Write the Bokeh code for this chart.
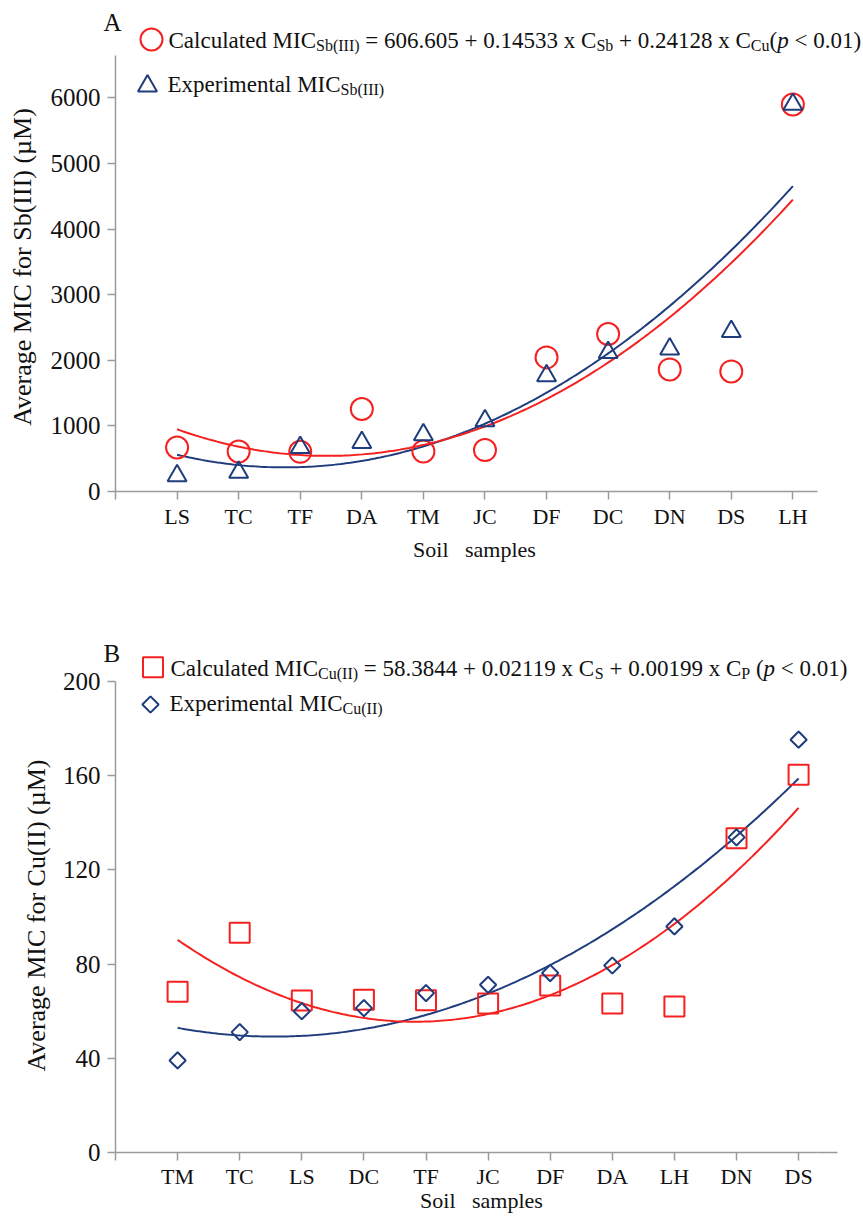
import numpy as np
from bokeh.plotting import figure
from bokeh.models import FixedTicker, Range1d
from bokeh.layouts import column
from bokeh.embed import file_html
from bokeh.resources import INLINE
from bokeh.core.properties import value

# ---------------- data ----------------
samples_a = ["LS", "TC", "TF", "DA", "TM", "JC", "DF", "DC", "DN", "DS", "LH"]
calc_sb = [671, 610, 605, 1257, 610, 631, 2044, 2400, 1861, 1830, 5898]
exp_sb = [240, 295, 670, 747, 865, 1078, 1765, 2120, 2171, 2440, 5900]
yticks_a = [0, 1000, 2000, 3000, 4000, 5000, 6000]

samples_b = ["TM", "TC", "LS", "DC", "TF", "JC", "DF", "DA", "LH", "DN", "DS"]
calc_cu = [68.3, 93.3, 64.5, 64.9, 64.6, 63.3, 70.9, 63.3, 62.0, 133.4, 160.4]
exp_cu = [39.1, 51.1, 60.0, 61.3, 67.7, 71.2, 76.2, 79.4, 96.0, 133.8, 175.3]
yticks_b = [0, 40, 80, 120, 160, 200]

legend_a_calc = [("Calculated MIC", "main"), ("Sb(III)", "sub"),
                 (" = 606.605 + 0.14533 x C", "main"), ("Sb", "sub"),
                 (" + 0.24128 x C", "main"), ("Cu", "sub"),
                 ("(", "main"), ("p", "ital"), (" < 0.01)", "main")]
legend_a_exp = [("Experimental MIC", "main"), ("Sb(III)", "sub")]
legend_b_calc = [("Calculated MIC", "main"), ("Cu(II)", "sub"),
                 (" = 58.3844 + 0.02119 x C", "main"), ("S", "sub"),
                 (" + 0.00199 x C", "main"), ("P", "sub"),
                 (" (", "main"), ("p", "ital"), (" < 0.01)", "main")]
legend_b_exp = [("Experimental MIC", "main"), ("Cu(II)", "sub")]

# ---------------- style ----------------
FONT = "Liberation Serif"
RED = "#f52020"
BLUE = "#1f3d7d"
AXIS = "#9a9a9a"
TXT = "#111111"
MAIN, SUB = 23, 16

TW = {' ': 250, '(': 333, ')': 333, '+': 564, '=': 564, '<': 564, '.': 250,
      'x': 500, 'p': 500, 'C': 667, 'S': 556, 'b': 500, 'I': 333, 'u': 500,
      'M': 889, 'a': 444, 'l': 278, 'c': 444, 't': 278, 'e': 444, 'd': 500,
      'E': 611, 'r': 333, 'i': 278, 'm': 778, 'n': 500, 'P': 556, 's': 389,
      'o': 500}


def tw(s, size):
    return sum(TW.get(ch, 500) for ch in s) / 1000.0 * size


def make_fig(W, H, frame, xr, yr, oy):
    # frame = (L, R, T, B) in page pixel coordinates; figure top at oy
    L, R, T, B = frame
    p = figure(width=W, height=H, x_range=Range1d(*xr), y_range=Range1d(*yr),
               output_backend="svg", toolbar_location=None,
               min_border_left=L, min_border_right=W - R,
               min_border_top=T - oy, min_border_bottom=H - (B - oy))
    p.outline_line_color = None
    p.xgrid.visible = False
    p.ygrid.visible = False
    p.background_fill_color = "white"
    p.border_fill_color = "white"

    def fx(px):
        return xr[0] + (px - L) / (R - L) * (xr[1] - xr[0])

    def fy(py):
        return yr[0] + (B - py) / (B - T) * (yr[1] - yr[0])
    return p, fx, fy


def style_axes(p, cats, yticks, xstand):
    xa = p.xaxis[0]
    xa.ticker = FixedTicker(ticks=list(range(-1, len(cats))))
    ov = {-1: ""}
    for i, c in enumerate(cats):
        ov[i] = c
    xa.major_label_overrides = ov
    ya = p.yaxis[0]
    ya.ticker = FixedTicker(ticks=yticks)
    for ax in (xa, ya):
        ax.axis_line_color = AXIS
        ax.axis_line_width = 1.5
        ax.major_tick_line_color = AXIS
        ax.major_tick_line_width = 1.5
        ax.major_tick_out = 8
        ax.major_tick_in = 0
        ax.minor_tick_out = 0
        ax.minor_tick_in = 0
        ax.major_label_text_font = FONT
        ax.major_label_text_color = TXT
    xa.major_label_text_font_size = "22px"
    xa.major_label_standoff = xstand
    ya.major_label_text_font_size = "25px"
    ya.major_label_standoff = 7


def text(p, fx, fy, px, base, s, size, style="normal", align="left", rotate=False):
    # base = baseline position (page px); text is anchored at its middle
    if rotate:
        x, y, ang = fx(base - 0.33 * size), fy(px), np.pi / 2
    else:
        x, y, ang = fx(px), fy(base - 0.33 * size), 0.0
    p.text(x=[x], y=[y], text=[s], text_font=value(FONT),
           text_font_size=value(f"{size}px"), text_font_style=value(style),
           text_color=TXT, text_align=value(align),
           text_baseline=value("middle"), angle=ang, level="overlay")


def run(p, fx, fy, x0, base, pieces):
    x = float(x0)
    for s, kind in pieces:
        size = SUB if kind == "sub" else MAIN
        dy = 2 if kind == "sub" else 0
        style = "italic" if kind == "ital" else "normal"
        lead = len(s) - len(s.lstrip(" "))
        xd = x + lead * 0.25 * size
        text(p, fx, fy, xd, base + dy, s.strip(), size, style)
        x += tw(s, size)


def trend(p, vals, color):
    idx = np.arange(len(vals))
    c = np.polyfit(idx, np.array(vals, dtype=float), 2)
    xs = np.linspace(0, len(vals) - 1, 200)
    p.line(xs, np.polyval(c, xs), line_color=color, line_width=2)


W = 863
# ---------------- panel A ----------------
HA = 600
fa = (115, 817, 55, 491)
pa, fxa, fya = make_fig(W, HA, fa, (-1, 10.4), (0, 6645), 0)
style_axes(pa, samples_a, yticks_a, 4)
ia = list(range(len(samples_a)))
trend(pa, exp_sb, BLUE)
trend(pa, calc_sb, RED)
pa.scatter(ia, calc_sb, marker="circle", size=22, fill_color=None,
           line_color=RED, line_width=2)
pa.scatter(ia, exp_sb, marker="triangle", size=19, fill_color=None,
           line_color=BLUE, line_width=2)
pa.scatter([fxa(151)], [fya(39)], marker="circle", size=22, fill_color=None,
           line_color=RED, line_width=2, level="overlay")
pa.scatter([fxa(147)], [fya(85.5)], marker="triangle", size=19, fill_color=None,
           line_color=BLUE, line_width=2, level="overlay")
run(pa, fxa, fya, 168, 48, legend_a_calc)
run(pa, fxa, fya, 167, 92, legend_a_exp)
text(pa, fxa, fya, 103, 30, "A", 25)
text(pa, fxa, fya, 266.5, 31, "Average MIC for Sb(III) (\u00b5M)", 26,
     align="center", rotate=True)
text(pa, fxa, fya, 474, 556, "Soil\u00a0\u00a0\u00a0samples", 22, align="center")

# ---------------- panel B ----------------
HB = 616
UNIT_B = 62.1  # px per category in panel B
fb = (115, 817, 681, 1152)
xb_end = -1 + (fb[1] - fb[0]) / UNIT_B
pb, fxb, fyb = make_fig(W, HB, fb, (-1, xb_end), (0, 200), HA)
style_axes(pb, samples_b, yticks_b, 3)
# axis line of panel B runs a little further right than panel A's
pb.segment(x0=[xb_end], y0=[0], x1=[fxb(837)], y1=[0], line_color=AXIS,
           line_width=1.5, level="overlay")
ib = list(range(len(samples_b)))
trend(pb, exp_cu, BLUE)
trend(pb, calc_cu, RED)
pb.scatter(ib, calc_cu, marker="square", size=20, fill_color=None,
           line_color=RED, line_width=2)
pb.scatter(ib, exp_cu, marker="square", angle=np.pi / 4, size=11.5,
           fill_color=None, line_color=BLUE, line_width=2)
pb.scatter([fxb(152.5)], [fyb(666.7)], marker="square", size=20, fill_color=None,
           line_color=RED, line_width=2, level="overlay")
pb.scatter([fxb(150)], [fyb(704)], marker="square", angle=np.pi / 4, size=11.5,
           fill_color=None, line_color=BLUE, line_width=2, level="overlay")
run(pb, fxb, fyb, 170, 676, legend_b_calc)
run(pb, fxb, fyb, 169, 711, legend_b_exp)
text(pb, fxb, fyb, 103, 661, "B", 25)
text(pb, fxb, fyb, 915, 45, "Average MIC for Cu(II) (\u00b5M)", 26,
     align="center", rotate=True)
text(pb, fxb, fyb, 481, 1207, "Soil\u00a0\u00a0\u00a0samples", 22, align="center")

layout = column(pa, pb, spacing=0)
open("out.html", "w").write(file_html(layout, INLINE))
